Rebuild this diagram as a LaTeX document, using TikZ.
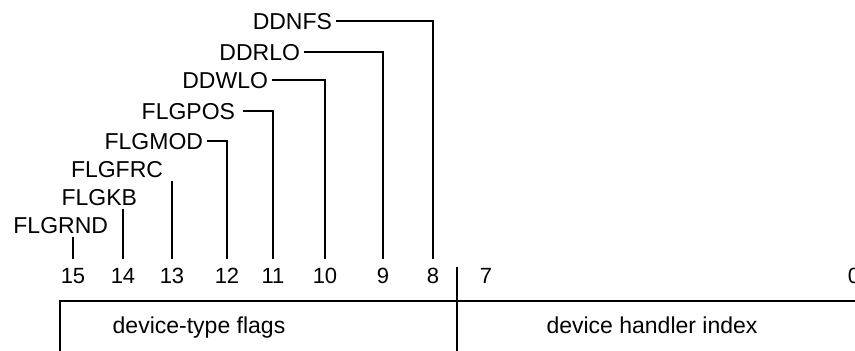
\documentclass[tikz,border=0pt]{standalone}
\usepackage{fontspec}
\setmainfont{Liberation Sans}
\begin{document}
\begin{tikzpicture}[x=1pt,y=-1pt,
  rule/.style={line width=2.7pt},
  lbl/.style={font=\fontsize{23}{27}\selectfont, inner sep=0pt, outer sep=4pt,
    text height=16pt, text depth=0pt, anchor=base east},
  bitno/.style={font=\fontsize{22}{26}\selectfont, inner sep=0pt, outer sep=0pt,
    text height=15.5pt, text depth=0pt, anchor=base},
  field/.style={font=\fontsize{23}{27}\selectfont, inner sep=0pt, anchor=base},
  lead/.style={rule, shorten >=9pt}
]
\useasboundingbox (0,0) rectangle (855,351);

% bit numbers
\node[bitno] (n15) at (73,283)  {15};
\node[bitno] (n14) at (123,283) {14};
\node[bitno] (n13) at (172,283) {13};
\node[bitno] (n12) at (227,283) {12};
\node[bitno] (n11) at (273,283) {11};
\node[bitno] (n10) at (325,283) {10};
\node[bitno] (n9)  at (383,283) {9};
\node[bitno] (n8)  at (433,283) {8};
\node[bitno] (n7)  at (486,283) {7};
\node[bitno] (n0)  at (854,283) {0};

% flag names
\node[lbl] (l15) at (112,233) {FLGRND};
\node[lbl] (l14) at (141,205) {FLGKB};
\node[lbl] (l13) at (167,177) {FLGFRC};
\node[lbl] (l12) at (207,149) {FLGMOD};
\node[lbl, outer xsep=8pt] (l11) at (243,119) {FLGPOS};
\node[lbl] (l10) at (272,88)  {DDWLO};
\node[lbl] (l9)  at (304,60)  {DDRLO};
\node[lbl] (l8)  at (336,29)  {DDNFS};

% leaders from names down to bit numbers
\draw[lead] (l15.south -| n15.north) -- (n15.north);
\draw[lead] (l14.south -| n14.north) -- (n14.north);
\draw[lead] (l13.south -| n13.north) -- (n13.north);
\draw[lead] (l12.east) -| (n12.north);
\draw[lead] (l11.east) -| (n11.north);
\draw[lead] (l10.east) -| (n10.north);
\draw[lead] (l9.east)  -| (n9.north);
\draw[lead] (l8.east)  -| (n8.north);

% word layout
\coordinate (boxl) at (60,351);
\coordinate (boxtl) at (60,301);
\coordinate (boxtr) at (855,301);
\coordinate (divt) at (457,267);
\coordinate (divb) at (457,351);
\draw[rule] (boxl) -- (boxtl) -- (boxtr);
\draw[rule] (divt) -- (divb);

\node[field] (hi) at (199,333) {device-type flags};
\node[field] (lo) at (652,333) {device handler index};
\end{tikzpicture}
\end{document}
